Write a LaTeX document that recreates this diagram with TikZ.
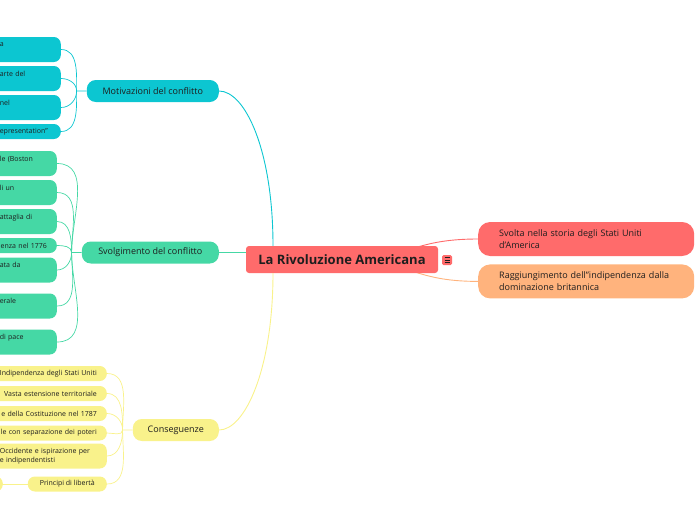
\documentclass[tikz,border=0pt]{standalone}
\usepackage{fontspec}
\setmainfont{Open Sans}
\usepackage{tikz}
\usetikzlibrary{positioning,backgrounds}
\definecolor{rootred}{HTML}{FF6B6B}
\definecolor{peach}{HTML}{FFB37D}
\definecolor{motcyan}{HTML}{0CC6D1}
\definecolor{mint}{HTML}{45D8A5}
\definecolor{lemon}{HTML}{F9F28B}
\definecolor{ink}{HTML}{1E1E1E}

\begin{document}
\begin{tikzpicture}[
    x=1pt,y=-1pt,
    every node/.style={text=ink},
    root/.style={fill=rootred,rounded corners=3pt,minimum width=192pt,minimum height=27pt,font=\fontsize{13}{15}\selectfont\bfseries},
    menu/.style={fill=rootred,rounded corners=1.5pt,minimum size=10pt,inner sep=0pt,
      path picture={\foreach \dy in {-2.5,0,2.5} \draw[ink,line width=0.8pt] ([xshift=-2.5pt,yshift=\dy pt]path picture bounding box.center) -- ++(5pt,0pt);}},
    branch/.style={rounded corners=9pt,minimum height=22pt,anchor=east,font=\fontsize{9}{11}\selectfont},
    side/.style={rounded corners=12pt,minimum height=34pt,inner xsep=21pt,text width=174pt,align=left,anchor=west,font=\fontsize{9}{12}\selectfont},
    leaf/.style={rounded corners=7pt,minimum height=15pt,inner xsep=10pt,inner ysep=1pt,anchor=east,font=\fontsize{7}{9.5}\selectfont},
    mleaf/.style={leaf,fill=motcyan,text width=51pt},
    sleaf/.style={leaf,fill=mint,text width=47pt},
    cleaf/.style={leaf,fill=lemon,text width=97pt},
    tall/.style={minimum height=25pt,align=left},
    flat/.style={align=right},
    link/.style={line width=0.9pt},
    twig/.style={line width=0.7pt}
  ]
    \clip (0,0) rectangle (696,520);
    % centre
    \node[root] (rev) at (342,259.5) {La Rivoluzione Americana};
    \node[menu] (menu) at (447,260) {};
    \node[side,fill=rootred] (svolta) at (478,239) {Svolta nella storia degli Stati Uniti\\d'America};
    \node[side,fill=peach,below=8pt of svolta.south west,anchor=north west] (ragg) {Raggiungimento dell"indipendenza dalla\\dominazione britannica};
    % branches
    \node[branch,fill=motcyan,minimum width=132pt] (mot) at (219,91) {Motivazioni del conflitto};
    \node[branch,fill=mint,minimum width=137pt] (svo) at (219,252.5) {Svolgimento del conflitto};
    \node[branch,fill=lemon,minimum width=86pt] (con) at (219,430) {Conseguenze};
    % motivazioni
    \node[mleaf,tall] (m1) at (61,49.5) {a\\~};
    \node[mleaf,tall] (m2) at (61,78.5) {arte del\\~};
    \node[mleaf,tall] (m3) at (61,107.5) {nel\\~};
    \node[mleaf,align=left] (m4) at (61,131.5) {\mbox{epresentation"}};
    % svolgimento
    \node[sleaf,tall] (s1) at (57,163.5) {le (Boston\\~};
    \node[sleaf,tall] (s2) at (57,192.5) {li un\\~};
    \node[sleaf,tall] (s3) at (57,221.5) {attaglia di\\~};
    \node[sleaf,flat] (s4) at (57,245.5) {enza nel 1776};
    \node[sleaf,tall] (s5) at (57,270) {ata da\\~};
    \node[sleaf,tall] (s6) at (57,306) {erale\\~};
    \node[sleaf,tall] (s7) at (57,342) {di pace\\~};
    % conseguenze
    \node[cleaf,flat] (k1) at (107,373.5) {Indipendenza degli Stati Uniti};
    \node[cleaf,flat] (k2) at (107,393.5) {Vasta estensione territoriale};
    \node[cleaf,flat] (k3) at (107,413.5) {e della Costituzione nel 1787};
    \node[cleaf,flat] (k4) at (107,433) {le con separazione dei poteri};
    \node[cleaf,tall] (k5) at (107,456) {\mbox{Occidente e ispirazione per}\\e indipendentisti};
    \node[leaf,fill=lemon,inner xsep=12pt] (k6) at (107,484) {Principi di libertà};
    \node[leaf,fill=lemon,minimum width=40pt] (k6a) at (3,484) {};
    % links
    \begin{scope}[on background layer]
      \draw[link,rootred] (rev.center) .. controls +(68,0) and +(-68,0) .. (svolta.west);
      \draw[link,peach] (rev.center) .. controls +(68,0) and +(-68,0) .. (ragg.west);
    \end{scope}
    \draw[link,motcyan] (mot.east) .. controls +(26,0) and +(0,-96) .. ([xshift=-69pt]rev.north);
    \draw[link,mint] (svo.east) -- (svo.east -| rev.west);
    \draw[link,lemon] (con.east) .. controls +(26,0) and +(0,96) .. ([xshift=-69pt]rev.south);
    \coordinate (mj) at ([xshift=-10pt]mot.west);
    \coordinate (sj) at ([xshift=-10pt]svo.west);
    \coordinate (cj) at ([xshift=-10pt]con.west);
    \draw[twig,motcyan] (mot.west) -- (mj) to[out=90,in=0] (m1.east);
    \draw[twig,motcyan] (mj) to[out=90,in=0] (m2.east);
    \draw[twig,motcyan] (mj) to[out=-90,in=0] (m3.east);
    \draw[twig,motcyan] (mj) to[out=-90,in=0] (m4.east);
    \draw[twig,mint] (svo.west) -- (sj) to[out=90,in=0] (s1.east);
    \draw[twig,mint] (sj) to[out=90,in=0] (s2.east);
    \draw[twig,mint] (sj) to[out=90,in=0] (s3.east);
    \draw[twig,mint] (sj) to[out=90,in=0] (s4.east);
    \draw[twig,mint] (sj) to[out=-90,in=0] (s5.east);
    \draw[twig,mint] (sj) to[out=-90,in=0] (s6.east);
    \draw[twig,mint] (sj) to[out=-90,in=0] (s7.east);
    \draw[twig,lemon] (con.west) -- (cj) to[out=90,in=0] (k1.east);
    \draw[twig,lemon] (cj) to[out=90,in=0] (k2.east);
    \draw[twig,lemon] (cj) to[out=90,in=0] (k3.east);
    \draw[twig,lemon] (cj) to[out=-90,in=0] (k4.east);
    \draw[twig,lemon] (cj) to[out=-90,in=0] (k5.east);
    \draw[twig,lemon] (cj) to[out=-90,in=0] (k6.east);
    \draw[twig,lemon] (k6.west) -- (k6a.east);
  \end{tikzpicture}
\end{document}
